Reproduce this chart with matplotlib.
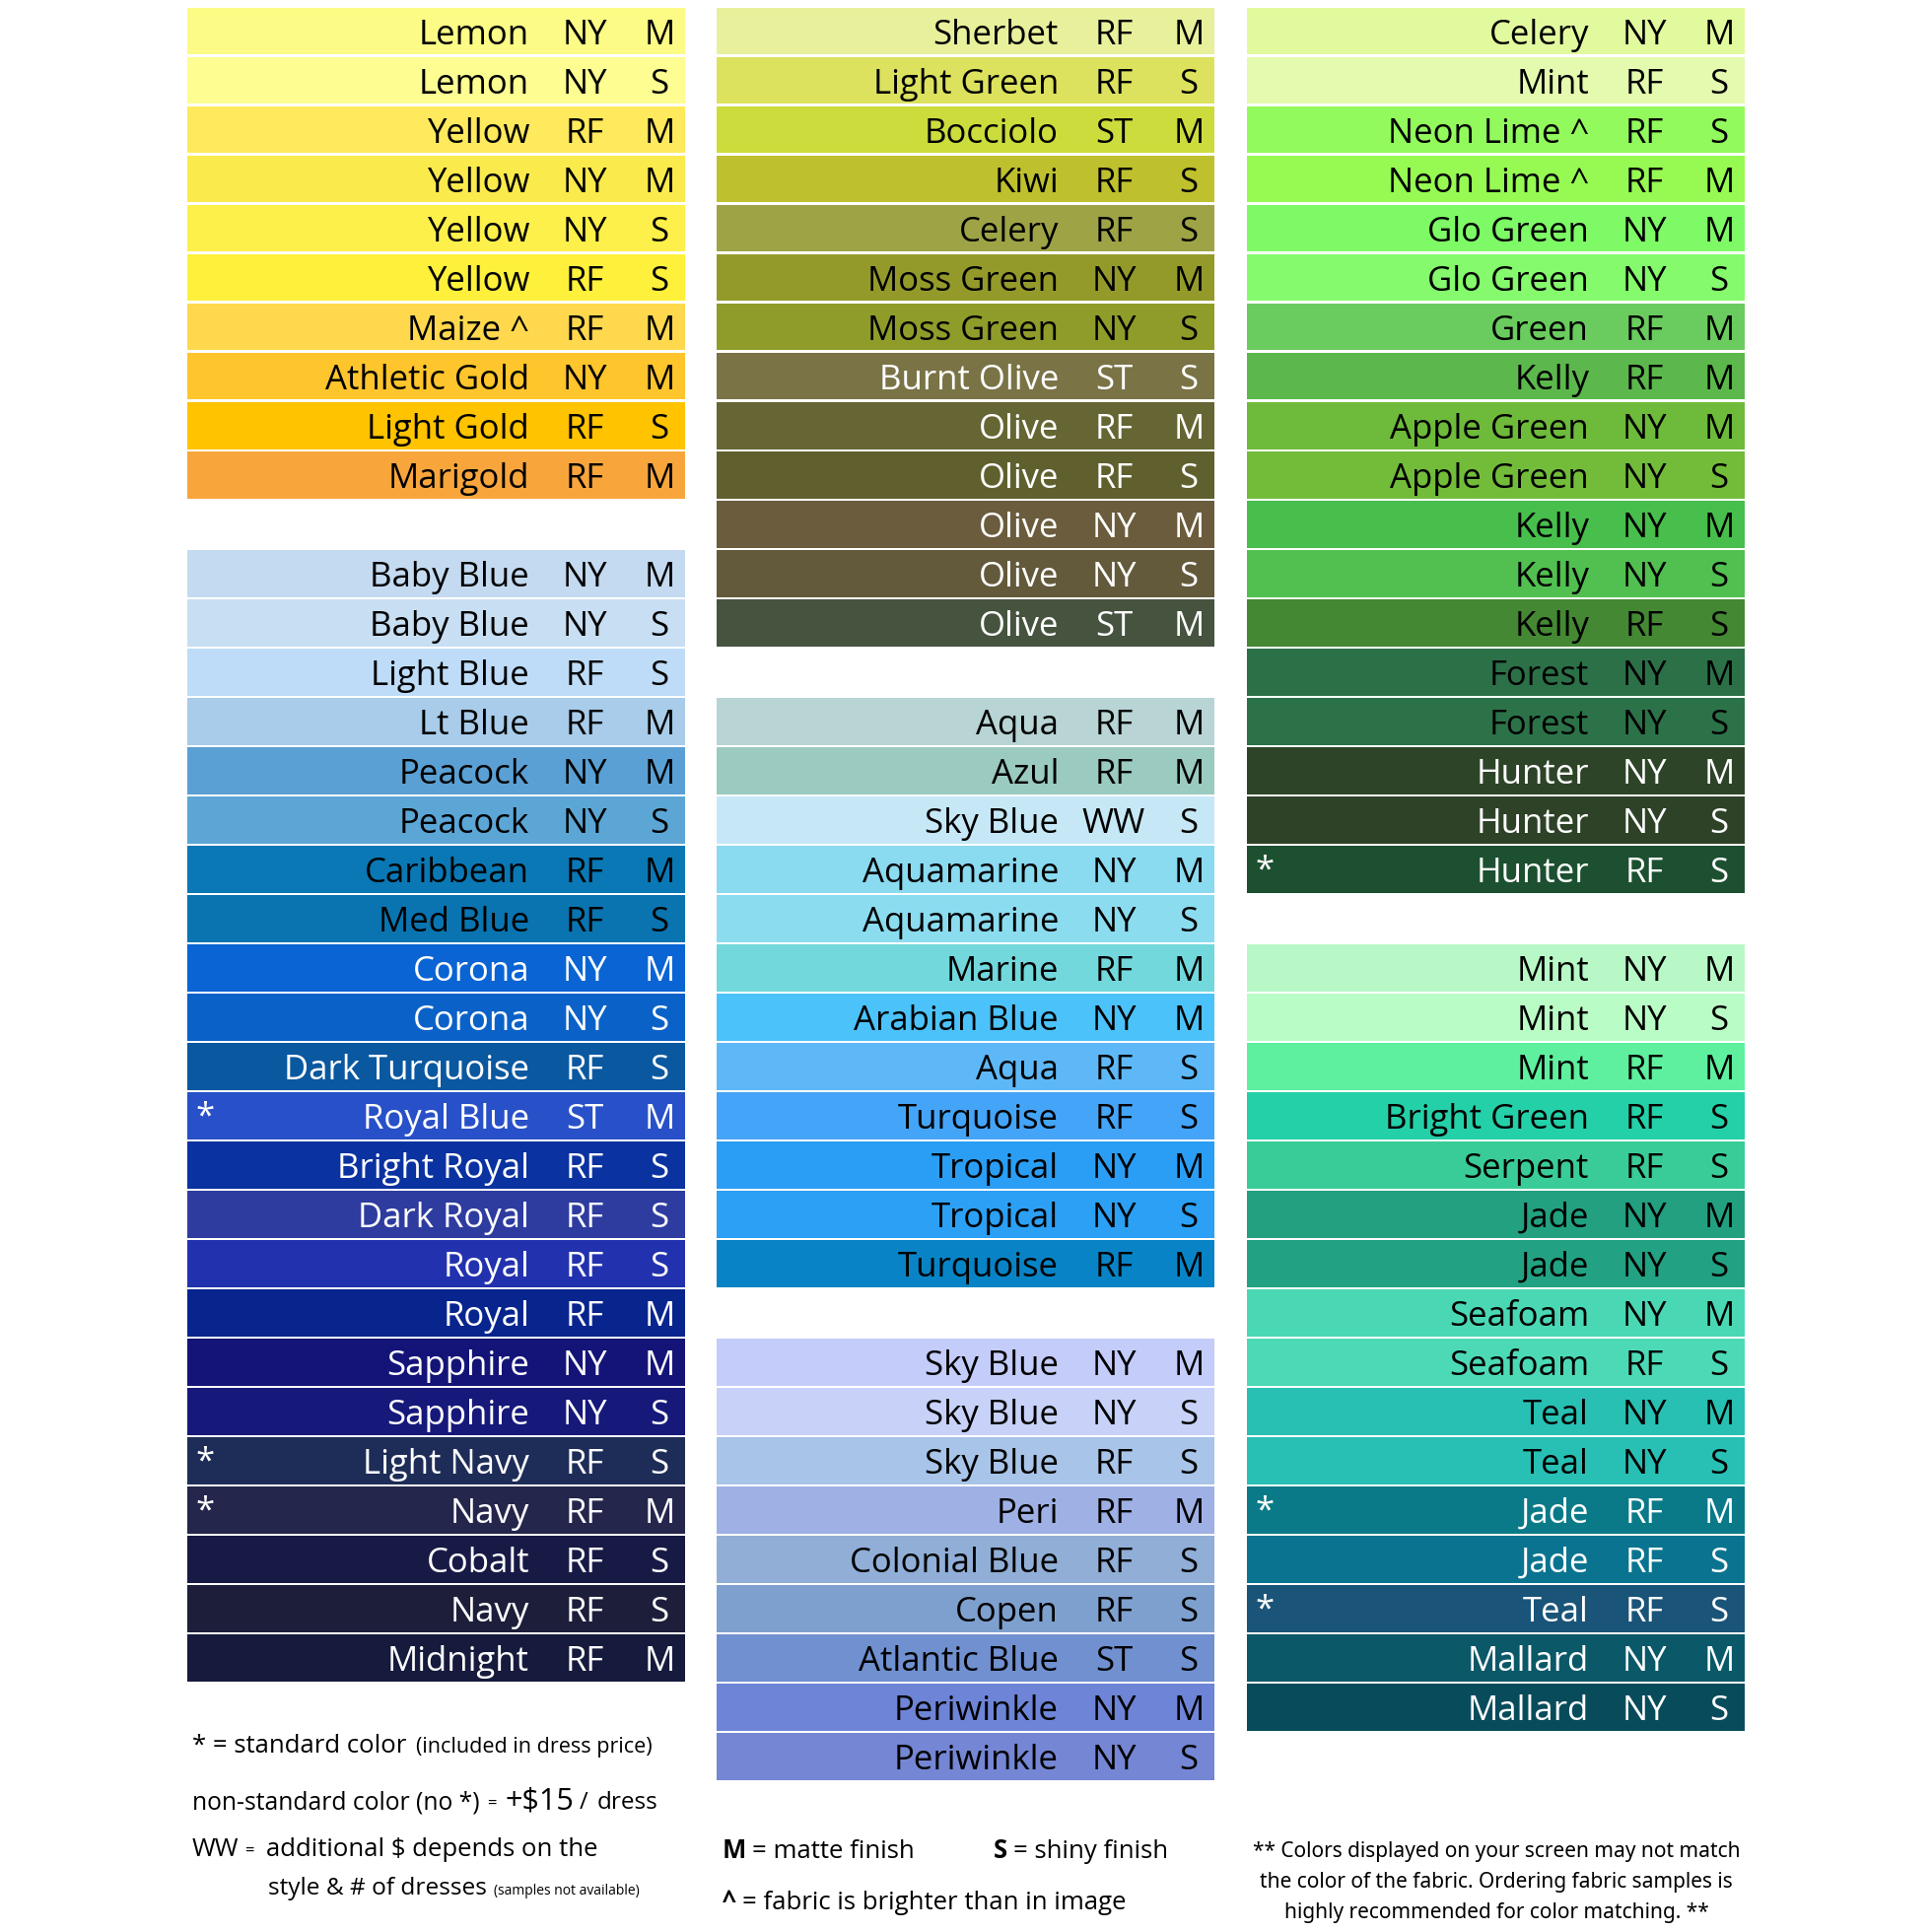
import matplotlib.pyplot as plt

plt.rcParams['font.family'] = ['Open Sans', 'DejaVu Sans']

# ---- column 1 : yellows + blues (None = empty row) ----
c1_names = ['Lemon', 'Lemon', 'Yellow', 'Yellow', 'Yellow', 'Yellow', 'Maize ^',
            'Athletic Gold', 'Light Gold', 'Marigold', None,
            'Baby Blue', 'Baby Blue', 'Light Blue', 'Lt Blue', 'Peacock', 'Peacock',
            'Caribbean', 'Med Blue', 'Corona', 'Corona', 'Dark Turquoise', 'Royal Blue',
            'Bright Royal', 'Dark Royal', 'Royal', 'Royal', 'Sapphire', 'Sapphire',
            'Light Navy', 'Navy', 'Cobalt', 'Navy', 'Midnight']
c1_fabric = ['NY', 'NY', 'RF', 'NY', 'NY', 'RF', 'RF', 'NY', 'RF', 'RF', None,
             'NY', 'NY', 'RF', 'RF', 'NY', 'NY', 'RF', 'RF', 'NY', 'NY', 'RF', 'ST',
             'RF', 'RF', 'RF', 'RF', 'NY', 'NY', 'RF', 'RF', 'RF', 'RF', 'RF']
c1_finish = ['M', 'S', 'M', 'M', 'S', 'S', 'M', 'M', 'S', 'M', None,
             'M', 'S', 'S', 'M', 'M', 'S', 'M', 'S', 'M', 'S', 'S', 'M',
             'S', 'S', 'S', 'M', 'M', 'S', 'S', 'M', 'S', 'S', 'M']
c1_colors = ['#FBFB86', '#FDFD92', '#FFE95C', '#FBEA4C', '#FDF04A', '#FFF03C', '#FFD84E',
             '#FFC52C', '#FFC300', '#F8A63C', None,
             '#C4DAF0', '#C8DEF2', '#BEDCF8', '#A8CCEA', '#5AA0D4', '#5CA6D6',
             '#0A78B4', '#0A74B0', '#0A64D4', '#0A62C8', '#0A58A0', '#2850C8',
             '#0A32A0', '#2E3CA0', '#2232AE', '#08258E', '#141478', '#16187A',
             '#1E2C58', '#24264C', '#181A46', '#1C1E3A', '#161A3C']
c1_star = [22, 29, 30]
c1_white = list(range(19, 34))

# ---- column 2 : greens/olives + aquas + sky blues ----
c2_names = ['Sherbet', 'Light Green', 'Bocciolo', 'Kiwi', 'Celery', 'Moss Green', 'Moss Green',
            'Burnt Olive', 'Olive', 'Olive', 'Olive', 'Olive', 'Olive', None,
            'Aqua', 'Azul', 'Sky Blue', 'Aquamarine', 'Aquamarine', 'Marine', 'Arabian Blue',
            'Aqua', 'Turquoise', 'Tropical', 'Tropical', 'Turquoise', None,
            'Sky Blue', 'Sky Blue', 'Sky Blue', 'Peri', 'Colonial Blue', 'Copen',
            'Atlantic Blue', 'Periwinkle', 'Periwinkle']
c2_fabric = ['RF', 'RF', 'ST', 'RF', 'RF', 'NY', 'NY', 'ST', 'RF', 'RF', 'NY', 'NY', 'ST', None,
             'RF', 'RF', 'WW', 'NY', 'NY', 'RF', 'NY', 'RF', 'RF', 'NY', 'NY', 'RF', None,
             'NY', 'NY', 'RF', 'RF', 'RF', 'RF', 'ST', 'NY', 'NY']
c2_finish = ['M', 'S', 'M', 'S', 'S', 'M', 'S', 'S', 'M', 'S', 'M', 'S', 'M', None,
             'M', 'M', 'S', 'M', 'S', 'M', 'M', 'S', 'S', 'M', 'S', 'M', None,
             'M', 'S', 'S', 'M', 'S', 'S', 'S', 'M', 'S']
c2_colors = ['#E8F09C', '#DCE25E', '#CCDC3C', '#BEC02E', '#9EA446', '#949A2A', '#909C2A',
             '#7A7346', '#666634', '#60602F', '#6A5C3C', '#635A3C', '#46533F', None,
             '#B8D4D4', '#9ACAC0', '#C6E8F6', '#8ADAF0', '#8CDCF0', '#72D8DC', '#4CC2FA',
             '#5EB8F8', '#44A4F8', '#2A9EF4', '#2CA0F4', '#0884C6', None,
             '#C4CCFA', '#C8D2F8', '#A8C4E8', '#9EB0E4', '#90AED6', '#7EA0CE',
             '#7090D0', '#6E84D6', '#7486D4']
c2_star = []
c2_white = [7, 8, 9, 10, 11, 12]

# ---- column 3 : greens + mints/teals ----
c3_names = ['Celery', 'Mint', 'Neon Lime ^', 'Neon Lime ^', 'Glo Green', 'Glo Green', 'Green',
            'Kelly', 'Apple Green', 'Apple Green', 'Kelly', 'Kelly', 'Kelly', 'Forest', 'Forest',
            'Hunter', 'Hunter', 'Hunter', None,
            'Mint', 'Mint', 'Mint', 'Bright Green', 'Serpent', 'Jade', 'Jade', 'Seafoam',
            'Seafoam', 'Teal', 'Teal', 'Jade', 'Jade', 'Teal', 'Mallard', 'Mallard']
c3_fabric = ['NY', 'RF', 'RF', 'RF', 'NY', 'NY', 'RF', 'RF', 'NY', 'NY', 'NY', 'NY', 'RF',
             'NY', 'NY', 'NY', 'NY', 'RF', None,
             'NY', 'NY', 'RF', 'RF', 'RF', 'NY', 'NY', 'NY', 'RF', 'NY', 'NY', 'RF', 'RF',
             'RF', 'NY', 'NY']
c3_finish = ['M', 'S', 'S', 'M', 'M', 'S', 'M', 'M', 'M', 'S', 'M', 'S', 'S', 'M', 'S',
             'M', 'S', 'S', None,
             'M', 'S', 'M', 'S', 'S', 'M', 'S', 'M', 'S', 'M', 'S', 'M', 'S', 'S', 'M', 'S']
c3_colors = ['#E2FA9E', '#E4FAAE', '#92FA5C', '#96FA52', '#7EFA66', '#84FA6C', '#6ACC5E',
             '#5CB84C', '#6EBA3A', '#72BC3A', '#48BE4C', '#52C050', '#448834', '#2C7048',
             '#2C7248', '#2E4428', '#2E4228', '#1C5030', None,
             '#B8F8C6', '#BAFCC6', '#5EF09E', '#24D0A8', '#3ACC98', '#22A080', '#22A282',
             '#4AD8B4', '#4CDAB6', '#28C0B2', '#28C0B4', '#0A7A88', '#0A7490', '#1A5478',
             '#0A5868', '#084C5C']
c3_star = [17, 30, 32]
c3_white = [15, 16, 17, 30, 31, 32, 33, 34]

columns = [
    (190, c1_names, c1_fabric, c1_finish, c1_colors, c1_star, c1_white),
    (727, c2_names, c2_fabric, c2_finish, c2_colors, c2_star, c2_white),
    (1265, c3_names, c3_fabric, c3_finish, c3_colors, c3_star, c3_white),
]

W, H = 1960, 1960
fig = plt.figure(figsize=(W / 100, H / 100), dpi=100)
ax = fig.add_axes([0, 0, 1, 1])
ax.set_xlim(0, W)
ax.set_ylim(H, 0)
ax.axis('off')

top0, pitch, bar_h, col_w = 8, 50, 47.5, 505
fs = 25

for left, names, fabric, finish, colors, stars, whites in columns:
    rows = [i for i, n in enumerate(names) if n is not None]
    ax.barh([top0 + pitch * i + bar_h / 2 for i in rows], col_w, left=left,
            height=bar_h, color=[colors[i] for i in rows], linewidth=0)
    for i in rows:
        tc = 'white' if i in whites else 'black'
        yb = top0 + pitch * i + 37
        ax.text(left + 347, yb, names[i], ha='right', va='baseline', fontsize=fs, color=tc)
        ax.text(left + 403, yb, fabric[i], ha='center', va='baseline', fontsize=fs, color=tc)
        ax.text(left + 479, yb, finish[i], ha='center', va='baseline', fontsize=fs, color=tc)
        if i in stars:
            ax.text(left + 8, yb - 2, '*', ha='left', va='baseline', fontsize=fs, color=tc)

renderer = fig.canvas.get_renderer()


def run(x, y, parts):
    # place text pieces one after another on a shared baseline
    for txt, size, gap, weight in parts:
        t = ax.text(x, y, txt, fontsize=size, va='baseline', fontweight=weight)
        bb = t.get_window_extent(renderer=renderer)
        x = ax.transData.inverted().transform((bb.x1, bb.y0))[0] + gap


# ---- notes under column 1 ----
run(195, 1778, [('* = standard color', 18.5, 10, 'normal'),
                ('(included in dress price)', 15.5, 0, 'normal')])
run(195, 1835, [('non-standard color (no *)', 17.7, 8, 'normal'),
                ('=', 12, 8, 'normal'),
                ('+$15', 22, 6, 'normal'),
                ('/', 17, 9, 'normal'),
                ('dress', 17.5, 0, 'normal')])
run(195, 1883, [('WW', 18.5, 6, 'normal'),
                ('=', 12, 12, 'normal'),
                ('additional $ depends on the', 18.5, 0, 'normal')])
run(272, 1922, [('style & # of dresses', 17.6, 7, 'normal'),
                ('(samples not available)', 10, 0, 'normal')])

# ---- notes under column 2 ----
run(733, 1885, [('M', 18.5, 6, 'bold'), ('= matte finish', 18.5, 0, 'normal')])
run(1008, 1885, [('S', 18.5, 6, 'bold'), ('= shiny finish', 18.5, 0, 'normal')])
run(733, 1937, [('^', 18.5, 6, 'bold'), ('= fabric is brighter than in image', 18.5, 0, 'normal')])

# ---- notes under column 3 ----
note_lines = ['** Colors displayed on your screen may not match',
              'the color of the fabric. Ordering fabric samples is',
              'highly recommended for color matching. **']
for k, line in enumerate(note_lines):
    ax.text(1518, 1884 + 31 * k, line, fontsize=15, ha='center', va='baseline',
            family=['Noto Sans', 'DejaVu Sans'])

fig.savefig('out.png', dpi=100)
